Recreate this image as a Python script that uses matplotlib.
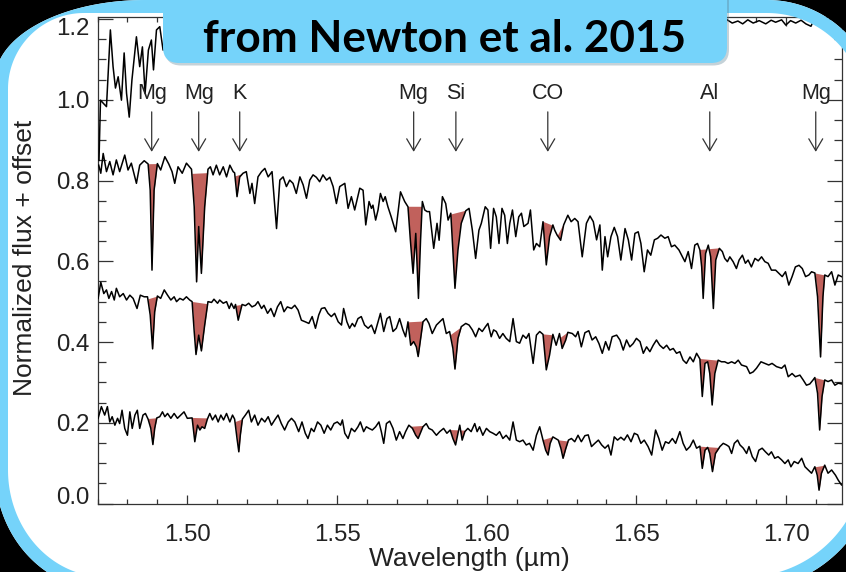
import numpy as np
import matplotlib
matplotlib.use("Agg")
import matplotlib.pyplot as plt
from matplotlib.patches import FancyBboxPatch, PathPatch
from matplotlib.path import Path
from matplotlib.ticker import MultipleLocator, FuncFormatter

# ---------------- data (wavelength in micron, normalized flux + offset) -------------
spec_top = [
    (1.4704,0.838),(1.4711,0.818),(1.4719,0.867),(1.4730,0.822),(1.4741,0.847),(1.4752,0.814),(1.4763,0.851),(1.4774,0.822),(1.4791,0.863),(1.4802,0.826),
    (1.4813,0.843),(1.4830,0.793),(1.4841,0.838),(1.4856,0.849),(1.4869,0.841),(1.4876,0.776),(1.4882,0.578),(1.4889,0.776),(1.4900,0.842),(1.4911,0.826),
    (1.4925,0.859),(1.4938,0.841),(1.4949,0.822),(1.4958,0.793),(1.4969,0.834),(1.4983,0.818),(1.4997,0.843),(1.5014,0.828),(1.5023,0.735),(1.5031,0.549),
    (1.5038,0.686),(1.5047,0.570),(1.5058,0.735),(1.5069,0.828),(1.5077,0.834),(1.5086,0.814),(1.5097,0.838),(1.5108,0.814),(1.5120,0.834),(1.5131,0.809),
    (1.5142,0.838),(1.5153,0.822),(1.5158,0.819),(1.5166,0.760),(1.5175,0.809),(1.5186,0.818),(1.5197,0.822),(1.5209,0.768),(1.5216,0.793),(1.5225,0.743),
    (1.5236,0.809),(1.5248,0.822),(1.5259,0.830),(1.5270,0.809),(1.5283,0.822),(1.5298,0.681),(1.5309,0.801),(1.5320,0.809),(1.5331,0.785),(1.5342,0.801),
    (1.5353,0.793),(1.5364,0.768),(1.5376,0.809),(1.5387,0.789),(1.5398,0.756),(1.5409,0.801),(1.5420,0.814),(1.5431,0.808),(1.5442,0.797),(1.5453,0.814),
    (1.5465,0.801),(1.5476,0.808),(1.5487,0.785),(1.5498,0.743),(1.5509,0.785),(1.5526,0.793),(1.5537,0.731),(1.5548,0.760),(1.5559,0.727),(1.5576,0.781),
    (1.5587,0.776),(1.5596,0.690),(1.5607,0.748),(1.5615,0.731),(1.5620,0.739),(1.5629,0.702),(1.5637,0.727),(1.5645,0.768),(1.5654,0.748),(1.5661,0.760),
    (1.5670,0.735),(1.5681,0.710),(1.5696,0.673),(1.5712,0.772),(1.5726,0.748),(1.5737,0.735),(1.5745,0.652),(1.5754,0.570),(1.5763,0.669),(1.5772,0.508),
    (1.5779,0.652),(1.5785,0.748),(1.5793,0.727),(1.5801,0.723),(1.5809,0.723),(1.5823,0.632),(1.5834,0.694),(1.5841,0.652),(1.5852,0.760),(1.5863,0.743),
    (1.5871,0.702),(1.5880,0.719),(1.5887,0.628),(1.5894,0.533),(1.5904,0.628),(1.5915,0.694),(1.5930,0.725),(1.5941,0.731),(1.5952,0.677),(1.5963,0.607),
    (1.5974,0.677),(1.5982,0.694),(1.5995,0.735),(1.6004,0.727),(1.6013,0.632),(1.6023,0.731),(1.6032,0.710),(1.6041,0.644),(1.6051,0.731),(1.6060,0.714),
    (1.6069,0.644),(1.6077,0.694),(1.6086,0.727),(1.6097,0.661),(1.6107,0.710),(1.6116,0.719),(1.6124,0.686),(1.6138,0.694),(1.6146,0.727),(1.6157,0.628),
    (1.6166,0.644),(1.6177,0.636),(1.6188,0.698),(1.6199,0.591),(1.6210,0.661),(1.6221,0.690),(1.6227,0.677),(1.6235,0.665),(1.6247,0.652),(1.6257,0.690),
    (1.6271,0.714),(1.6282,0.698),(1.6294,0.706),(1.6305,0.698),(1.6319,0.611),(1.6333,0.694),(1.6345,0.712),(1.6356,0.698),(1.6367,0.653),(1.6378,0.690),
    (1.6386,0.578),(1.6395,0.661),(1.6404,0.611),(1.6415,0.661),(1.6426,0.684),(1.6437,0.661),(1.6448,0.603),(1.6462,0.681),(1.6473,0.653),(1.6484,0.603),
    (1.6495,0.669),(1.6506,0.673),(1.6515,0.644),(1.6526,0.574),(1.6537,0.628),(1.6548,0.615),(1.6560,0.653),(1.6571,0.657),(1.6582,0.665),(1.6595,0.657),
    (1.6606,0.661),(1.6617,0.636),(1.6628,0.640),(1.6642,0.628),(1.6651,0.615),(1.6662,0.599),(1.6673,0.624),(1.6684,0.582),(1.6695,0.640),(1.6704,0.644),
    (1.6712,0.628),(1.6718,0.586),(1.6723,0.508),(1.6731,0.619),(1.6740,0.640),(1.6748,0.611),(1.6757,0.483),(1.6765,0.603),(1.6777,0.632),(1.6787,0.624),
    (1.6795,0.607),(1.6804,0.599),(1.6812,0.611),(1.6823,0.599),(1.6834,0.582),(1.6843,0.603),(1.6854,0.615),(1.6864,0.595),(1.6873,0.603),(1.6884,0.586),
    (1.6896,0.607),(1.6907,0.601),(1.6918,0.611),(1.6929,0.599),(1.6940,0.595),(1.6951,0.578),(1.6965,0.578),(1.6976,0.570),(1.6987,0.562),(1.6998,0.574),
    (1.7009,0.541),(1.7020,0.562),(1.7031,0.586),(1.7043,0.590),(1.7054,0.582),(1.7065,0.562),(1.7076,0.566),(1.7085,0.574),(1.7096,0.571),(1.7105,0.512),
    (1.7115,0.363),(1.7123,0.512),(1.7129,0.566),(1.7140,0.562),(1.7152,0.574),(1.7163,0.541),(1.7174,0.566),(1.7185,0.562),
]

spec_mid = [
    (1.4702,0.508),(1.4711,0.548),(1.4721,0.520),(1.4730,0.529),(1.4738,0.508),(1.4747,0.525),(1.4756,0.504),(1.4763,0.533),(1.4774,0.512),(1.4786,0.520),
    (1.4797,0.504),(1.4808,0.516),(1.4819,0.508),(1.4832,0.483),(1.4843,0.516),(1.4856,0.512),(1.4867,0.512),(1.4876,0.467),(1.4884,0.383),(1.4891,0.475),
    (1.4900,0.514),(1.4911,0.508),(1.4923,0.529),(1.4934,0.516),(1.4945,0.504),(1.4956,0.512),(1.4964,0.500),(1.4975,0.508),(1.4986,0.504),(1.4997,0.512),
    (1.5008,0.504),(1.5016,0.500),(1.5023,0.426),(1.5029,0.369),(1.5038,0.417),(1.5047,0.378),(1.5058,0.442),(1.5069,0.500),(1.5081,0.498),(1.5089,0.506),
    (1.5101,0.496),(1.5108,0.504),(1.5120,0.496),(1.5131,0.500),(1.5140,0.483),(1.5147,0.496),(1.5156,0.483),(1.5161,0.493),(1.5170,0.454),(1.5183,0.493),
    (1.5194,0.490),(1.5205,0.496),(1.5216,0.487),(1.5227,0.491),(1.5236,0.500),(1.5248,0.483),(1.5256,0.491),(1.5268,0.471),(1.5279,0.483),(1.5290,0.463),
    (1.5301,0.487),(1.5312,0.500),(1.5323,0.475),(1.5334,0.487),(1.5348,0.483),(1.5359,0.491),(1.5370,0.479),(1.5381,0.454),(1.5394,0.450),(1.5406,0.446),
    (1.5417,0.463),(1.5428,0.434),(1.5439,0.467),(1.5448,0.483),(1.5459,0.485),(1.5470,0.471),(1.5481,0.463),(1.5492,0.471),(1.5504,0.450),(1.5515,0.442),
    (1.5522,0.483),(1.5533,0.450),(1.5542,0.434),(1.5551,0.446),(1.5559,0.438),(1.5570,0.458),(1.5581,0.463),(1.5592,0.442),(1.5604,0.434),(1.5615,0.442),
    (1.5626,0.421),(1.5637,0.450),(1.5645,0.471),(1.5656,0.426),(1.5667,0.458),(1.5676,0.463),(1.5687,0.426),(1.5698,0.434),(1.5709,0.458),(1.5720,0.430),
    (1.5729,0.413),(1.5737,0.450),(1.5746,0.392),(1.5756,0.401),(1.5765,0.388),(1.5771,0.364),(1.5778,0.401),(1.5787,0.450),(1.5798,0.458),(1.5807,0.446),
    (1.5818,0.421),(1.5832,0.442),(1.5843,0.450),(1.5854,0.458),(1.5865,0.421),(1.5876,0.426),(1.5887,0.384),(1.5894,0.333),(1.5904,0.409),(1.5915,0.438),
    (1.5930,0.446),(1.5941,0.442),(1.5952,0.430),(1.5963,0.413),(1.5974,0.434),(1.5985,0.426),(1.5996,0.438),(1.6004,0.446),(1.6015,0.413),(1.6023,0.430),
    (1.6032,0.426),(1.6043,0.409),(1.6054,0.421),(1.6065,0.409),(1.6077,0.401),(1.6088,0.458),(1.6099,0.401),(1.6110,0.397),(1.6121,0.417),(1.6132,0.409),
    (1.6141,0.421),(1.6155,0.347),(1.6166,0.417),(1.6177,0.426),(1.6188,0.419),(1.6199,0.331),(1.6210,0.368),(1.6221,0.419),(1.6232,0.392),(1.6243,0.421),
    (1.6252,0.384),(1.6264,0.405),(1.6271,0.424),(1.6286,0.421),(1.6297,0.413),(1.6305,0.426),(1.6316,0.388),(1.6328,0.423),(1.6341,0.428),(1.6352,0.405),
    (1.6364,0.413),(1.6375,0.396),(1.6386,0.372),(1.6397,0.401),(1.6408,0.380),(1.6419,0.413),(1.6434,0.417),(1.6445,0.405),(1.6456,0.380),(1.6467,0.405),
    (1.6478,0.388),(1.6489,0.396),(1.6500,0.409),(1.6512,0.401),(1.6523,0.372),(1.6534,0.388),(1.6545,0.376),(1.6556,0.392),(1.6567,0.405),(1.6578,0.392),
    (1.6590,0.384),(1.6601,0.392),(1.6612,0.380),(1.6623,0.384),(1.6634,0.372),(1.6645,0.376),(1.6656,0.355),(1.6667,0.347),(1.6679,0.363),(1.6690,0.351),
    (1.6701,0.372),(1.6712,0.358),(1.6720,0.265),(1.6729,0.347),(1.6738,0.351),(1.6745,0.322),(1.6753,0.244),(1.6762,0.322),(1.6773,0.355),(1.6784,0.351),
    (1.6795,0.351),(1.6806,0.347),(1.6818,0.351),(1.6829,0.347),(1.6840,0.355),(1.6851,0.343),(1.6868,0.339),(1.6879,0.322),(1.6890,0.326),(1.6901,0.335),
    (1.6916,0.351),(1.6929,0.347),(1.6942,0.343),(1.6953,0.347),(1.6968,0.339),(1.6985,0.335),(1.6996,0.343),(1.7007,0.314),(1.7020,0.322),(1.7031,0.314),
    (1.7046,0.318),(1.7057,0.306),(1.7068,0.293),(1.7079,0.296),(1.7090,0.306),(1.7096,0.312),(1.7105,0.273),(1.7112,0.182),(1.7120,0.265),(1.7129,0.306),
    (1.7140,0.302),(1.7152,0.306),(1.7163,0.293),(1.7174,0.298),(1.7187,0.296),
]

spec_bot = [
    (1.4702,0.211),(1.4713,0.240),(1.4724,0.219),(1.4733,0.240),(1.4741,0.202),(1.4749,0.215),(1.4758,0.194),(1.4767,0.211),(1.4774,0.198),(1.4782,0.231),
    (1.4791,0.186),(1.4800,0.169),(1.4808,0.227),(1.4816,0.186),(1.4825,0.219),(1.4833,0.231),(1.4841,0.186),(1.4852,0.219),(1.4860,0.223),(1.4869,0.209),
    (1.4878,0.186),(1.4885,0.146),(1.4891,0.186),(1.4898,0.212),(1.4908,0.215),(1.4917,0.227),(1.4925,0.215),(1.4934,0.223),(1.4945,0.211),(1.4956,0.223),
    (1.4967,0.211),(1.4978,0.219),(1.4989,0.227),(1.5000,0.211),(1.5016,0.212),(1.5025,0.153),(1.5034,0.194),(1.5042,0.182),(1.5049,0.190),(1.5058,0.186),
    (1.5067,0.209),(1.5075,0.223),(1.5084,0.207),(1.5094,0.219),(1.5103,0.202),(1.5112,0.219),(1.5121,0.207),(1.5131,0.223),(1.5142,0.202),(1.5151,0.219),
    (1.5158,0.209),(1.5166,0.161),(1.5172,0.128),(1.5177,0.169),(1.5184,0.209),(1.5194,0.219),(1.5205,0.231),(1.5214,0.202),(1.5225,0.219),(1.5236,0.194),
    (1.5248,0.211),(1.5259,0.202),(1.5270,0.215),(1.5281,0.194),(1.5292,0.207),(1.5303,0.219),(1.5314,0.198),(1.5325,0.182),(1.5337,0.202),(1.5348,0.211),
    (1.5359,0.202),(1.5372,0.178),(1.5383,0.202),(1.5394,0.174),(1.5403,0.161),(1.5414,0.186),(1.5423,0.178),(1.5435,0.202),(1.5446,0.194),(1.5457,0.174),
    (1.5468,0.194),(1.5479,0.182),(1.5490,0.198),(1.5501,0.202),(1.5512,0.194),(1.5518,0.207),(1.5526,0.174),(1.5537,0.161),(1.5548,0.186),(1.5559,0.178),
    (1.5570,0.190),(1.5578,0.202),(1.5589,0.178),(1.5598,0.190),(1.5607,0.186),(1.5618,0.182),(1.5629,0.190),(1.5640,0.202),(1.5648,0.178),(1.5656,0.149),
    (1.5665,0.198),(1.5676,0.204),(1.5687,0.186),(1.5698,0.157),(1.5709,0.178),(1.5720,0.161),(1.5729,0.178),(1.5740,0.194),(1.5752,0.186),(1.5763,0.169),
    (1.5771,0.161),(1.5778,0.174),(1.5787,0.190),(1.5798,0.198),(1.5807,0.186),(1.5818,0.182),(1.5832,0.169),(1.5843,0.178),(1.5856,0.186),(1.5867,0.174),
    (1.5878,0.182),(1.5887,0.161),(1.5896,0.145),(1.5904,0.174),(1.5910,0.194),(1.5918,0.157),(1.5927,0.178),(1.5937,0.186),(1.5948,0.178),(1.5960,0.198),
    (1.5968,0.178),(1.5976,0.190),(1.5987,0.169),(1.5999,0.186),(1.6010,0.178),(1.6021,0.174),(1.6032,0.169),(1.6043,0.178),(1.6054,0.161),(1.6065,0.169),
    (1.6077,0.157),(1.6088,0.202),(1.6099,0.157),(1.6110,0.153),(1.6121,0.157),(1.6132,0.145),(1.6143,0.149),(1.6155,0.132),(1.6166,0.169),(1.6177,0.190),
    (1.6188,0.157),(1.6197,0.132),(1.6205,0.120),(1.6212,0.149),(1.6221,0.165),(1.6230,0.161),(1.6239,0.157),(1.6248,0.136),(1.6255,0.112),(1.6264,0.136),
    (1.6273,0.157),(1.6283,0.161),(1.6294,0.153),(1.6305,0.169),(1.6316,0.153),(1.6328,0.168),(1.6339,0.170),(1.6350,0.141),(1.6361,0.149),(1.6373,0.157),
    (1.6384,0.145),(1.6395,0.137),(1.6406,0.145),(1.6415,0.120),(1.6426,0.165),(1.6437,0.157),(1.6448,0.164),(1.6459,0.157),(1.6470,0.170),(1.6482,0.153),
    (1.6493,0.174),(1.6504,0.170),(1.6515,0.149),(1.6526,0.157),(1.6539,0.141),(1.6551,0.120),(1.6564,0.182),(1.6575,0.161),(1.6586,0.132),(1.6597,0.153),
    (1.6608,0.149),(1.6620,0.161),(1.6631,0.149),(1.6645,0.178),(1.6656,0.149),(1.6667,0.132),(1.6679,0.141),(1.6690,0.157),(1.6701,0.137),(1.6712,0.142),
    (1.6720,0.087),(1.6729,0.132),(1.6738,0.139),(1.6745,0.124),(1.6754,0.079),(1.6764,0.124),(1.6779,0.141),(1.6790,0.149),(1.6801,0.145),(1.6809,0.141),
    (1.6818,0.124),(1.6827,0.149),(1.6838,0.157),(1.6846,0.145),(1.6857,0.137),(1.6868,0.124),(1.6876,0.141),(1.6887,0.116),(1.6898,0.104),(1.6909,0.132),
    (1.6920,0.137),(1.6931,0.128),(1.6942,0.120),(1.6951,0.128),(1.6962,0.112),(1.6973,0.116),(1.6985,0.108),(1.6996,0.099),(1.7007,0.108),(1.7016,0.091),
    (1.7027,0.104),(1.7040,0.099),(1.7052,0.112),(1.7063,0.091),(1.7074,0.083),(1.7085,0.075),(1.7096,0.091),(1.7104,0.070),(1.7110,0.033),(1.7118,0.075),
    (1.7129,0.095),(1.7140,0.075),(1.7152,0.083),(1.7165,0.070),(1.7174,0.058),(1.7185,0.046),
]

# highest spectrum, mostly above the plotted range (only its ends are visible)
spec_high = [
    (1.4705,0.850),(1.4710,0.999),(1.4721,0.990),(1.4730,0.983),(1.4743,1.173),(1.4752,1.082),(1.4760,1.029),(1.4769,1.057),(1.4780,0.999),(1.4789,1.116),
    (1.4797,1.016),(1.4806,0.957),(1.4815,1.049),(1.4830,1.156),(1.4841,1.082),(1.4850,1.131),(1.4859,1.016),(1.4870,1.123),(1.4880,1.148),(1.4887,1.074),
    (1.4897,1.173),(1.4908,1.181),(1.4919,1.123),(1.4930,1.190),(1.5000,1.250),(1.5500,1.270),(1.6000,1.260),(1.6500,1.230),(1.6780,1.205),(1.6799,1.200),
    (1.6820,1.190),(1.6839,1.195),(1.6855,1.188),(1.6872,1.198),(1.6890,1.190),(1.6910,1.196),(1.6932,1.188),(1.6950,1.197),(1.6965,1.192),(1.6985,1.198),
    (1.6999,1.185),(1.7015,1.196),(1.7032,1.190),(1.7050,1.197),(1.7066,1.188),(1.7083,1.182),(1.7100,1.210),(1.7185,1.240),
]

# shaded feature windows (micron)
feature_windows = [(1.4868, 1.4900), (1.5015, 1.5068), (1.5159, 1.5185), (1.5737, 1.5790),
                   (1.5878, 1.5930), (1.6188, 1.6222), (1.6237, 1.6272), (1.6712, 1.6777),
                   (1.7096, 1.7129)]

# labelled lines
line_labels = ["Mg", "Mg", "K", "Mg", "Si", "CO", "Al", "Mg"]
line_waves = [1.4881, 1.5038, 1.5175, 1.5756, 1.5897, 1.6204, 1.6745, 1.7099]

title_text = "from Newton et al. 2015"
x_label = "Wavelength (\u00b5m)"
y_label = "Normalized flux + offset"

# ---------------- style -------------
W, H, DPI = 846, 572, 100
BLUE = "#75D3FA"
RED = "#C1615C"
INK = "#222222"
TICK_FS = 17.3
plt.rcParams["font.family"] = ["Liberation Sans", "DejaVu Sans"]

fig = plt.figure(figsize=(W / DPI, H / DPI), dpi=DPI, facecolor="white")

# main axes (pixel box: x 97.5..841.5, y 17..503.5)
L, R, T, B = 97.5, 841.5, 17.0, 503.5
ax = fig.add_axes([L / W, (H - B) / H, (R - L) / W, (B - T) / H], zorder=1)
ax.set_facecolor("white")
ax.set_xlim(1.4700, 1.7185)
ax.set_ylim(0.0, 1.205)

for spec in (spec_top, spec_mid, spec_bot, spec_high):
    wv, fl = map(np.array, zip(*spec))
    ax.plot(wv, fl, color="black", lw=1.1, zorder=3, solid_joinstyle="round")
    if spec is spec_high:
        continue
    for a, b in feature_windows:
        inside = (wv > a) & (wv < b)
        xs = np.concatenate([[a], wv[inside], [b]])
        ys = np.concatenate([[np.interp(a, wv, fl)], fl[inside], [np.interp(b, wv, fl)]])
        cont = np.interp(xs, [a, b], [ys[0], ys[-1]])
        ax.fill_between(xs, ys, cont, where=ys <= cont, interpolate=True,
                        color=RED, lw=0, zorder=2)

for lab, w in zip(line_labels, line_waves):
    ax.text(w, 1.003, lab, ha="center", va="baseline", fontsize=15.5, color=INK)
    ax.annotate("", xy=(w, 0.871), xytext=(w, 0.970),
                arrowprops=dict(arrowstyle="->,head_length=0.85,head_width=0.5",
                                color="#333333", lw=0.9, mutation_scale=10,
                                shrinkA=0, shrinkB=0))

ax.xaxis.set_major_locator(MultipleLocator(0.05))
ax.xaxis.set_minor_locator(MultipleLocator(0.01))
ax.yaxis.set_major_locator(MultipleLocator(0.2))
ax.yaxis.set_minor_locator(MultipleLocator(0.05))
ax.xaxis.set_major_formatter(matplotlib.ticker.FormatStrFormatter("%.2f"))
# end labels (0.0 and 1.2) are nudged inward like in the original; drawn separately
ax.yaxis.set_major_formatter(FuncFormatter(
    lambda v, p: "" if (abs(v) < 1e-6 or abs(v - 1.2) < 1e-6) else "%.1f" % v))
ax.tick_params(which="both", direction="in", top=True, right=True,
               color="#333333", width=0.9, labelsize=TICK_FS, labelcolor=INK)
ax.tick_params(axis="y", which="major", length=10.8, pad=5.5)
ax.tick_params(axis="y", which="minor", length=5.8)
ax.tick_params(axis="x", which="major", length=6.5, pad=15)
ax.tick_params(axis="x", which="minor", length=3.3)
for s in ax.spines.values():
    s.set_color("#333333")
    s.set_linewidth(0.9)
for val, dy in ((0.0, 8), (1.2, -7)):
    ax.annotate("%.1f" % val, xy=(0, val), xycoords=ax.get_yaxis_transform(),
                xytext=(-7.6, dy), textcoords="offset pixels", ha="right",
                va="center_baseline", fontsize=TICK_FS, color=INK, annotation_clip=False)

ax.set_xlabel(x_label, fontsize=19, color=INK)
ax.set_ylabel(y_label, fontsize=19, color=INK)
ax.xaxis.set_label_coords(0.5, -0.090)
ax.yaxis.set_label_coords(-0.081, 0.505)

# ---------------- slide frame overlay -------------
ov = fig.add_axes([0, 0, 1, 1], zorder=5)
ov.set_xlim(0, W)
ov.set_ylim(H, 0)
ov.axis("off")
ov.patch.set_alpha(0)


def corner(cx, cy, rx, ry, t0, t1, n=60):
    t = np.linspace(t0, t1, n)
    return np.column_stack([cx + rx * np.cos(t), cy + ry * np.sin(t)])


def rounded(x0, y0, x1, y1, tl, tr, br, bl):
    return np.vstack([
        corner(x0 + tl[0], y0 + tl[1], tl[0], tl[1], np.pi, 1.5 * np.pi),
        corner(x1 - tr[0], y0 + tr[1], tr[0], tr[1], 1.5 * np.pi, 2 * np.pi),
        corner(x1 - br[0], y1 - br[1], br[0], br[1], 0, 0.5 * np.pi),
        corner(x0 + bl[0], y1 - bl[1], bl[0], bl[1], 0.5 * np.pi, np.pi),
    ])


def area(p):
    x, y = p[:, 0], p[:, 1]
    return 0.5 * np.sum(x * np.roll(y, -1) - np.roll(x, -1) * y)


def ring_path(outer, inner):
    if np.sign(area(outer)) == np.sign(area(inner)):
        inner = inner[::-1]
    verts, codes = [], []
    for p in (outer, inner):
        verts.extend(p.tolist())
        verts.append(p[0].tolist())
        codes += [Path.MOVETO] + [Path.LINETO] * (len(p) - 1) + [Path.CLOSEPOLY]
    return Path(verts, codes)


canvas = np.array([[-50, -50], [W + 50, -50], [W + 50, H + 50], [-50, H + 50]], float)
outer = rounded(-5, 0, 878, 590, (150, 80), (111, 111), (133, 133), (110, 120))
inner = rounded(8, 13, 865, 577, (76, 76), (98, 98), (120, 120), (97, 107))
ov.add_patch(PathPatch(ring_path(canvas, outer), facecolor="black", lw=0))
ov.add_patch(PathPatch(ring_path(outer, inner), facecolor=BLUE, lw=0))

# title box
ov.add_patch(FancyBboxPatch((165, -30), 564, 95.5, boxstyle="round,pad=0,rounding_size=16",
                            facecolor="#5a7f90", alpha=0.35, lw=0))
ov.add_patch(FancyBboxPatch((163, -30), 564, 93, boxstyle="round,pad=0,rounding_size=16",
                            facecolor=BLUE, lw=0))
tt = ov.text(445, 52, title_text, ha="center", va="baseline", fontsize=30,
             fontweight="bold", family=["Lato", "DejaVu Sans"], color="black")
fig.canvas.draw()
wpx = tt.get_window_extent().width
tt.set_fontsize(30 * 482.0 / wpx)

fig.savefig("out.png", dpi=DPI, facecolor=fig.get_facecolor())
